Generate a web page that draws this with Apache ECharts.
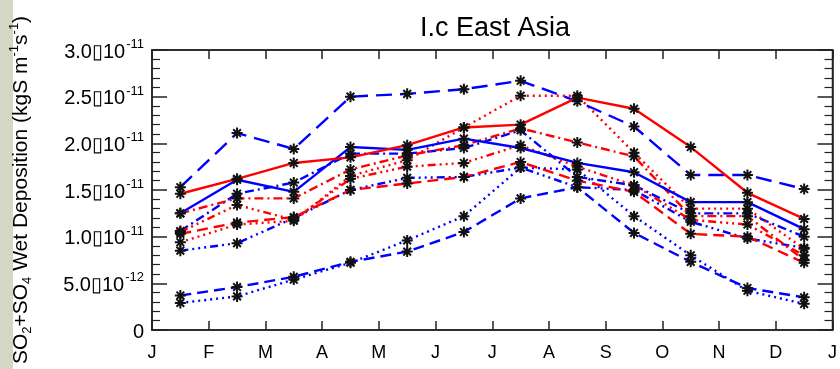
<!DOCTYPE html>
<html>
<head>
<meta charset="utf-8">
<script src="https://cdn.jsdelivr.net/npm/echarts@6/dist/echarts.min.js"></script>
<style>
html,body{margin:0;padding:0;background:#fff;}
#c{width:840px;height:369px;}
</style>
</head>
<body>
<div id="c"></div>
<script>
// Month tick labels (x axis spans Jan 1 .. next Jan 1)
const monthLabels = ['J','F','M','A','M','J','J','A','S','O','N','D','J'];
// Mid-month positions of the data points (in months)
const monthPos = [0.5,1.5,2.5,3.5,4.5,5.5,6.5,7.5,8.5,9.5,10.5,11.5];
// Y tick labels: mantissa and exponent
const yTickValues = [0, 0.5, 1.0, 1.5, 2.0, 2.5, 3.0];
const yTickMantissa = ['0', '5.0', '1.0', '1.5', '2.0', '2.5', '3.0'];
const yTickExponent = ['', '-12', '-11', '-11', '-11', '-11', '-11'];

// Series values in units of 1e-11 kgS m-2 s-1
const redSolid      = [1.46, 1.62, 1.79, 1.85, 1.98, 2.17, 2.20, 2.49, 2.37, 1.96, 1.47, 1.19];
const redDotted     = [0.94, 1.13, 1.17, 1.65, 1.82, 2.17, 2.51, 2.51, 1.90, 1.30, 1.30, 0.87];
const redDashDot    = [1.25, 1.41, 1.41, 1.72, 1.87, 1.98, 2.16, 2.01, 1.86, 1.22, 1.22, 0.75];
const redDashed     = [1.03, 1.15, 1.21, 1.50, 1.57, 1.64, 1.80, 1.60, 1.48, 1.03, 1.00, 0.72];
const redDashDot3   = [1.05, 1.34, 1.18, 1.62, 1.75, 1.79, 1.98, 1.75, 1.55, 1.18, 1.13, 0.80];
const blueSolid     = [1.25, 1.61, 1.48, 1.96, 1.93, 2.05, 1.95, 1.79, 1.69, 1.37, 1.37, 1.08];
const blueLongDash  = [1.53, 2.11, 1.94, 2.50, 2.53, 2.58, 2.67, 2.45, 2.18, 1.66, 1.66, 1.51];
const blueDashDot   = [1.06, 1.46, 1.58, 1.89, 1.89, 1.95, 2.14, 1.64, 1.55, 1.25, 1.25, 1.00];
const blueDashDot3  = [0.85, 0.93, 1.20, 1.50, 1.63, 1.64, 1.74, 1.53, 1.50, 1.16, 0.98, 0.88];
const blueDashedLow = [0.37, 0.46, 0.57, 0.73, 0.84, 1.05, 1.41, 1.53, 1.04, 0.73, 0.45, 0.35];
const blueDottedLow = [0.29, 0.36, 0.54, 0.72, 0.96, 1.22, 1.74, 1.72, 1.22, 0.80, 0.42, 0.28];

const RED = '#ff0000', BLUE = '#0000ff';
const asterisk = 'path://M0,5L10,5M5,0L5,10M1.5,1.5L8.5,8.5M8.5,1.5L1.5,8.5';

function mk(name, vals, color, dash) {
  return {
    name: name,
    type: 'line',
    data: vals.map((v, i) => [monthPos[i], v]),
    symbol: asterisk,
    symbolSize: 11,
    showSymbol: true,
    lineStyle: { color: color, width: 2.4, type: dash },
    itemStyle: { color: '#000', borderColor: '#111', borderWidth: 2 },
    z: 2,
    animation: false
  };
}

const series = [
  mk('blueDottedLow', blueDottedLow, BLUE, [2, 4]),
  mk('blueDashedLow', blueDashedLow, BLUE, [11, 6]),
  mk('blueDashDot3', blueDashDot3, BLUE, [8, 4, 2, 4, 2, 4, 2, 4]),
  mk('blueDashDot', blueDashDot, BLUE, [9, 4, 2, 4]),
  mk('redDashDot3', redDashDot3, RED, [8, 4, 2, 4, 2, 4, 2, 4]),
  mk('redDashed', redDashed, RED, [11, 6]),
  mk('redDashDot', redDashDot, RED, [9, 4, 2, 4]),
  mk('redDotted', redDotted, RED, [2, 4]),
  mk('blueSolid', blueSolid, BLUE, 'solid'),
  mk('blueLongDash', blueLongDash, BLUE, [16, 8]),
  mk('redSolid', redSolid, RED, 'solid')
];

const chart = echarts.init(document.getElementById('c'), null, { renderer: 'canvas' });
const FONT = 'Liberation Sans, Arial, Helvetica, sans-serif';

chart.setOption({
  animation: false,
  backgroundColor: '#ffffff',
  title: {
    text: 'I.c East Asia',
    left: 490, top: 10,
    textAlign: 'center',
    textStyle: { fontFamily: FONT, fontSize: 27, fontWeight: 'normal', color: '#000' }
  },
  graphic: [
    { type: 'rect', left: 0, top: 0, shape: { width: 13, height: 369 }, style: { fill: '#d6d6c4' }, silent: true }
  ],
  grid: { left: 145, right: 6, top: 50, bottom: 39, show: true, borderColor: '#222', borderWidth: 1.5, backgroundColor: 'transparent' },
  xAxis: [
    {
      type: 'value', min: 0, max: 12, interval: 1,
      axisLine: { show: true, onZero: false, lineStyle: { color: '#222', width: 1.5 } },
      axisTick: { show: true, inside: true, length: 9, lineStyle: { color: '#222', width: 1.5 } },
      splitLine: { show: false },
      axisLabel: {
        margin: 14, fontFamily: FONT, fontSize: 18, color: '#000',
        formatter: v => monthLabels[Math.round(v)]
      }
    },
    {
      type: 'value', min: 0, max: 12, interval: 1, position: 'top',
      axisLine: { show: true, onZero: false, lineStyle: { color: '#222', width: 1.5 } },
      axisTick: { show: true, inside: true, length: 9, lineStyle: { color: '#222', width: 1.5 } },
      splitLine: { show: false },
      axisLabel: { show: false }
    }
  ],
  yAxis: [
    {
      type: 'value', min: 0, max: 3, interval: 0.5,
      axisLine: { show: true, onZero: false, lineStyle: { color: '#222', width: 1.5 } },
      axisTick: { show: true, inside: true, length: 15, lineStyle: { color: '#222', width: 1.5 } },
      minorTick: { show: true, splitNumber: 5, length: 8, lineStyle: { color: '#222', width: 1.2 } },
      splitLine: { show: false },
      axisLabel: {
        margin: 8, fontFamily: FONT, color: '#000',
        formatter: v => {
          let k = yTickValues.findIndex(t => Math.abs(t - v) < 1e-6);
          if (k < 0) return '';
          if (yTickExponent[k] === '') return '{m|' + yTickMantissa[k] + '}';
          return '{m|' + yTickMantissa[k] + '\u25AF10}{s|' + yTickExponent[k] + '}';
        },
        rich: {
          m: { fontFamily: FONT, fontSize: 20, color: '#000', lineHeight: 24, verticalAlign: 'bottom' },
          s: { fontFamily: FONT, fontSize: 13, color: '#000', lineHeight: 24, verticalAlign: 'top', padding: [0, 0, 0, 1] }
        }
      },
      name: '{n|SO}{b|2}{n|+SO}{b|4}{n| Wet Deposition (kgS m}{t|-1}{n|s}{t|-1}{n|)}',
      nameLocation: 'middle',
      nameRotate: 90,
      nameGap: 118,
      nameTextStyle: {
        rich: {
          n: { fontFamily: FONT, fontSize: 21, color: '#000', lineHeight: 26, verticalAlign: 'middle' },
          b: { fontFamily: FONT, fontSize: 13, color: '#000', lineHeight: 26, verticalAlign: 'bottom', padding: [10, 0, 0, 0] },
          t: { fontFamily: FONT, fontSize: 13, color: '#000', lineHeight: 26, verticalAlign: 'top', padding: [0, 0, 10, 0] }
        }
      }
    },
    {
      type: 'value', min: 0, max: 3, interval: 0.5, position: 'right',
      axisLine: { show: true, onZero: false, lineStyle: { color: '#222', width: 1.5 } },
      axisTick: { show: true, inside: true, length: 15, lineStyle: { color: '#222', width: 1.5 } },
      minorTick: { show: true, splitNumber: 5, length: 8, lineStyle: { color: '#222', width: 1.2 } },
      splitLine: { show: false },
      axisLabel: { show: false }
    }
  ],
  series: series
});
</script>
</body>
</html>
